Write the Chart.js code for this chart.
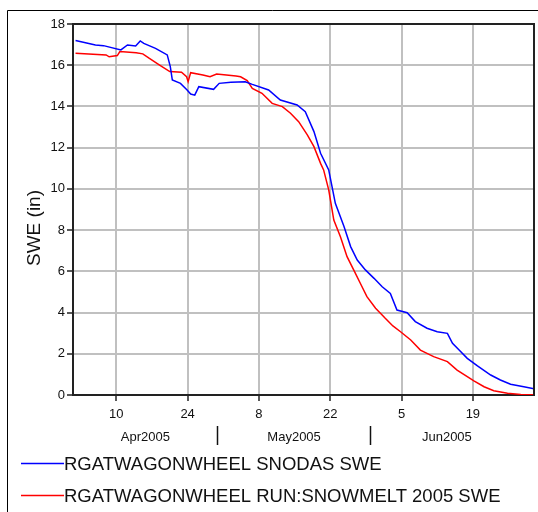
<!DOCTYPE html>
<html>
<head>
<meta charset="utf-8">
<script src="https://cdn.jsdelivr.net/npm/chart.js@4"></script>
<style>
  html, body { margin: 0; padding: 0; background: #fff; }
  canvas { display: block; }
</style>
</head>
<body>
<canvas id="swe" width="538" height="512"></canvas>
<script>
// x values are days since 1 Apr 2005 (Apr 1 = 0)
const tickDays = [9, 23, 37, 51, 65, 79];
const tickLabels = ["10", "24", "8", "22", "5", "19"];
const monthLabels = ["Apr2005", "May2005", "Jun2005"];
const seriesNames = ["RGATWAGONWHEEL SNODAS SWE", "RGATWAGONWHEEL RUN:SNOWMELT 2005 SWE"];

const snodasDays = [1, 4.9, 6.5, 9.9, 11.2, 12.8, 13.7, 14.4, 16.7, 19, 19.6, 20, 21.6, 22.9, 23.6, 24.4,
  25.2, 28.1, 29.2, 31.5, 34.3, 35.7, 38.9, 41.2, 44.5, 46.1, 47.8, 49.1, 50.7, 52, 53.7, 55, 56.3,
  57.9, 59.6, 61.2, 62.8, 64.1, 66.1, 67.7, 70, 72, 74, 75, 76.3, 77.9, 79.9, 82.5, 84.4, 86.4, 89, 91];
const snodasSwe = [17.2, 16.98, 16.95, 16.74, 16.98, 16.93, 17.18, 17.06, 16.82, 16.5, 15.93, 15.28, 15.12,
  14.8, 14.6, 14.55, 14.96, 14.83, 15.12, 15.17, 15.2, 15.07, 14.8, 14.31, 14.07, 13.75, 12.78, 11.73,
  10.92, 9.3, 8.17, 7.2, 6.55, 6.07, 5.66, 5.25, 4.93, 4.12, 3.99, 3.56, 3.24, 3.07, 2.99, 2.51, 2.18,
  1.78, 1.41, 0.97, 0.73, 0.52, 0.4, 0.3];

const snowmeltDays = [1, 7, 7.6, 9.2, 9.7, 12.9, 14.2, 15.5, 17.5, 19.5, 21.8, 22.8, 23.1, 23.6, 26, 27.4,
  28.7, 30.6, 32.5, 33.4, 34.7, 35.7, 37.6, 39.6, 41.6, 43.2, 44.8, 46.5, 47.8, 49.1, 49.7, 50.7, 51.7,
  53, 54.3, 55.6, 56.9, 58.2, 59.9, 61.8, 63.3, 64.8, 66.8, 68.7, 71.3, 74, 75.9, 77.9, 79.2, 81.2,
  83.1, 85.8, 88.4, 91];
const snowmeltSwe = [16.58, 16.5, 16.41, 16.47, 16.66, 16.61, 16.55, 16.33, 16.01, 15.69, 15.66, 15.44,
  15.2, 15.64, 15.53, 15.44, 15.57, 15.53, 15.48, 15.44, 15.25, 14.88, 14.64, 14.15, 13.99, 13.67,
  13.26, 12.62, 12.05, 11.24, 10.92, 9.95, 8.49, 7.68, 6.71, 6.07, 5.42, 4.77, 4.21, 3.72, 3.35, 3.07,
  2.67, 2.18, 1.86, 1.62, 1.21, 0.89, 0.69, 0.4, 0.21, 0.08, 0.03, 0.01];

const FONT = '"Liberation Sans", Arial, sans-serif';
const COLORS = ["#0000ff", "#ff0000"];
const MONTH_BREAKS = [28.8, 58.8];
const MONTH_CENTERS = [14.7, 43.9, 73.9];

function toPoints(xs, ys) {
  return xs.map((x, i) => ({ x, y: ys[i] }));
}

const decorations = {
  id: "decorations",
  afterDraw(chart) {
    const { ctx, chartArea: a } = chart;
    const x = chart.scales.x;
    ctx.save();

    // outer frame (only left/top edges fall inside the window)
    ctx.strokeStyle = "#000";
    ctx.lineWidth = 1;
    ctx.beginPath();
    ctx.moveTo(7.5, 512);
    ctx.lineTo(7.5, 10.5);
    ctx.lineTo(538, 10.5);
    ctx.stroke();

    // top and right edges of the plot box
    ctx.strokeStyle = "#222";
    ctx.lineWidth = 2;
    ctx.beginPath();
    ctx.moveTo(a.left, a.top);
    ctx.lineTo(a.right, a.top);
    ctx.lineTo(a.right, a.bottom);
    ctx.stroke();

    // y axis title
    ctx.fillStyle = "#111";
    ctx.font = `19px ${FONT}`;
    ctx.textAlign = "center";
    ctx.textBaseline = "middle";
    ctx.save();
    ctx.translate(35, 228);
    ctx.rotate(-Math.PI / 2);
    ctx.fillText("SWE (in)", 0, 0);
    ctx.restore();

    // month row
    ctx.font = `13px ${FONT}`;
    ctx.textBaseline = "alphabetic";
    monthLabels.forEach((m, i) => {
      ctx.fillText(m, x.getPixelForValue(MONTH_CENTERS[i]), 441);
    });
    ctx.strokeStyle = "#111";
    ctx.lineWidth = 1.5;
    MONTH_BREAKS.forEach((d) => {
      const px = Math.round(x.getPixelForValue(d)) + 0.5;
      ctx.beginPath();
      ctx.moveTo(px, 426);
      ctx.lineTo(px, 445);
      ctx.stroke();
    });

    // legend
    ctx.font = `18.5px ${FONT}`;
    ctx.textAlign = "left";
    ctx.fillStyle = "#111";
    [470, 502].forEach((base, i) => {
      ctx.strokeStyle = COLORS[i];
      ctx.lineWidth = 1.5;
      ctx.beginPath();
      ctx.moveTo(21, base - 6.5);
      ctx.lineTo(64, base - 6.5);
      ctx.stroke();
      ctx.fillText(seriesNames[i], 64, base);
    });

    ctx.restore();
  },
};

new Chart(document.getElementById("swe"), {
  type: "line",
  data: {
    datasets: [
      {
        label: seriesNames[0],
        data: toPoints(snodasDays, snodasSwe),
        borderColor: COLORS[0],
        borderWidth: 1.5,
        pointRadius: 0,
        tension: 0,
      },
      {
        label: seriesNames[1],
        data: toPoints(snowmeltDays, snowmeltSwe),
        borderColor: COLORS[1],
        borderWidth: 1.5,
        pointRadius: 0,
        tension: 0,
      },
    ],
  },
  options: {
    responsive: false,
    animation: false,
    devicePixelRatio: 1,
    layout: { padding: { top: 24, right: 4, left: 0, bottom: 0 } },
    plugins: {
      legend: { display: false },
      tooltip: { enabled: false },
    },
    scales: {
      x: {
        type: "linear",
        min: 0.5,
        max: 91,
        afterFit: (s) => { s.height = 117; },
        afterBuildTicks: (s) => { s.ticks = tickDays.map((v) => ({ value: v })); },
        ticks: {
          autoSkip: false,
          maxRotation: 0,
          padding: 6,
          color: "#111",
          font: { family: FONT, size: 13 },
          callback: (v) => tickLabels[tickDays.indexOf(v)],
        },
        grid: { color: "#c0c0c0", lineWidth: 2, tickLength: 6, tickColor: "#222", tickWidth: 1.5 },
        border: { color: "#222", width: 2 },
      },
      y: {
        min: 0,
        max: 18,
        afterFit: (s) => { s.width = 73; },
        ticks: {
          stepSize: 2,
          padding: 2,
          color: "#111",
          font: { family: FONT, size: 13 },
        },
        grid: { color: "#c0c0c0", lineWidth: 2, tickLength: 6, tickColor: "#222", tickWidth: 1.5 },
        border: { color: "#222", width: 2 },
      },
    },
  },
  plugins: [decorations],
});
</script>
</body>
</html>
